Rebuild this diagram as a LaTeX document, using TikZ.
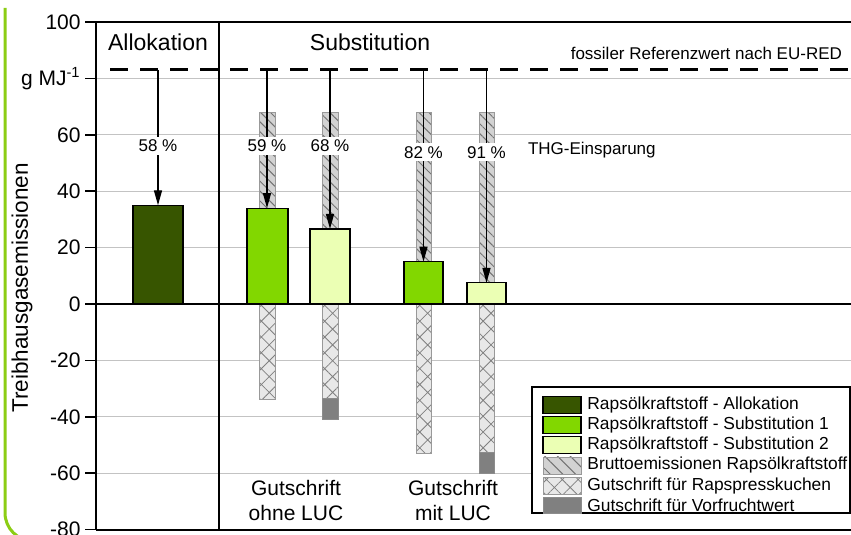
\documentclass[tikz,border=0pt]{standalone}
\usepackage{fontspec}
\setmainfont{Liberation Sans}
\usepackage{xcolor}
\usepackage{tikz}
\usetikzlibrary{arrows.meta, patterns.meta}

\definecolor{allogreen}{RGB}{55,85,0}
\definecolor{subsgreen}{RGB}{130,215,0}
\definecolor{subslight}{RGB}{235,255,180}
\definecolor{framegreen}{RGB}{140,205,20}
\definecolor{gridgray}{RGB}{195,195,195}

\begin{document}
\begin{tikzpicture}[x=0.5pt, y=1.41pt,
    gridline/.style={gridgray, line width=0.6pt},
    axisline/.style={black, line width=0.8pt},
    bar/.style={draw=black, line width=0.6pt},
    gross/.style={draw=gray!80, line width=0.4pt, preaction={fill=gray!35},
        pattern={Lines[angle=-45, distance=3.5pt, line width=0.5pt]}, pattern color=gray!90!black},
    credit/.style={draw=gray!80, line width=0.4pt, preaction={fill=gray!18},
        pattern={Hatch[angle=45, distance=5.6pt, line width=0.4pt]}, pattern color=gray},
    vorfrucht/.style={draw=gray!90, line width=0.4pt, fill=gray},
    savearrow/.style={black, line width=0.7pt, -{Triangle[length=7.5pt, width=4pt]}},
    refline/.style={black, line width=1.5pt, dash pattern=on 9pt off 6pt},
    ticklab/.style={anchor=east, font=\fontsize{10.5}{12}\selectfont, inner sep=0pt},
    title/.style={font=\fontsize{11.5}{13}\selectfont},
    lab/.style={font=\fontsize{8.5}{10}\selectfont},
    pct/.style={lab, fill=white, inner sep=1.5pt},
    gutlab/.style={align=center, font=\fontsize{10.5}{12.5}\selectfont},
    legtext/.style={anchor=west, font=\fontsize{8.7}{10}\selectfont, inner sep=0pt}
]
    \useasboundingbox (0,-81.91) rectangle (851,107.8);

    % green frame at the left
    \draw[framegreen, line width=1.5pt, rounded corners=14pt] (5,105) -- (5,-84) -- (80,-84);

    % grid and ticks
    \foreach \v in {80,60,40,20,-20,-40,-60}
        \draw[gridline] (96,\v) -- (851,\v);
    \foreach \v in {100,80,60,40,20,0,-20,-40,-60,-80}
        \draw[axisline] (85,\v) -- (96,\v);
    \foreach \v in {100,60,40,20,0,-20,-40,-60,-80}
        \node[ticklab] (t\v) at (81,\v) {\v};
    \node[ticklab] (tunit) at (81,80) {g MJ\textsuperscript{-1}};
    \node[rotate=90, font=\fontsize{11.25}{13}\selectfont] (ylab) at (22,5.7) {Treibhausgasemissionen};

    % gross emissions
    \draw[gross] (259,0) rectangle (275,68);
    \draw[gross] (322,0) rectangle (338,68);
    \draw[gross] (416,0) rectangle (431,68);
    \draw[gross] (479,0) rectangle (494,68);

    % credits
    \draw[credit] (259,0) rectangle (275,-34);
    \draw[credit] (322,0) rectangle (338,-33.3);
    \draw[vorfrucht] (322,-33.3) rectangle (338,-41);
    \draw[credit] (416,0) rectangle (431,-53);
    \draw[credit] (479,0) rectangle (494,-52.5);
    \draw[vorfrucht] (479,-52.5) rectangle (494,-60);

    % net emissions
    \draw[bar, fill=allogreen] (133,0) rectangle (183,35);
    \draw[bar, fill=subsgreen] (247,0) rectangle (288,34);
    \draw[bar, fill=subslight] (310,0) rectangle (350,26.6);
    \draw[bar, fill=subsgreen] (404,0) rectangle (443,15);
    \draw[bar, fill=subslight] (467,0) rectangle (506,7.5);

    % frame of the plot
    \draw[axisline] (96,-80) -- (96,100) -- (851,100);
    \draw[axisline] (219,-80) -- (219,100);
    \draw[black, line width=1pt] (96,0) -- (851,0);
    \draw[black, line width=1pt] (96,-80) -- (851,-80);

    % fossil reference
    \draw[refline] (110,83) -- (851,83);
    \node[lab, anchor=east] (fref) at (849,89) {fossiler Referenzwert nach EU-RED};

    % savings
    \coordinate (r0) at (158,83);   \coordinate (b0) at (158,35);
    \coordinate (r1) at (267,83);   \coordinate (b1) at (267,34);
    \coordinate (r2) at (330,83);   \coordinate (b2) at (330,26.6);
    \coordinate (r3) at (423.5,83); \coordinate (b3) at (423.5,15);
    \coordinate (r4) at (486.5,83); \coordinate (b4) at (486.5,7.5);
    \draw[savearrow] (r0) -- (b0);
    \draw[savearrow] (r1) -- (b1);
    \draw[savearrow] (r2) -- (b2);
    \draw[savearrow] (r3) -- (b3);
    \draw[savearrow] (r4) -- (b4);
    \node[pct] (p0) at (158,56) {58 \%};
    \node[pct] (p1) at (267,56) {59 \%};
    \node[pct] (p2) at (330,56) {68 \%};
    \node[pct] (p3) at (423.5,53.8) {82 \%};
    \node[pct] (p4) at (486.5,53.8) {91 \%};
    \node[lab, anchor=west] (thg) at (521,54.4) {THG-Einsparung};

    % titles
    \node[title] (allo) at (158,92.9) {Allokation};
    \node[title] (subs) at (370,92.9) {Substitution};
    \node[gutlab] (gohne) at (296,-69.7) {Gutschrift\\ohne LUC};
    \node[gutlab] (gmit) at (453,-69.7) {Gutschrift\\mit LUC};

    % legend
    \draw[black, line width=0.6pt, fill=white] (532,-29.4) rectangle (850,-74.1);
    \draw[bar, fill=allogreen] (543,-38.8) rectangle (581,-32.8);
    \draw[bar, fill=subsgreen] (543,-45.95) rectangle (581,-39.95);
    \draw[bar, fill=subslight] (543,-53.1) rectangle (581,-47.1);
    \draw[gross, pattern={Lines[angle=-45, distance=4.5pt, line width=0.5pt]}] (543,-60.25) rectangle (581,-54.25);
    \draw[credit] (543,-67.4) rectangle (581,-61.4);
    \draw[vorfrucht] (543,-74.1) rectangle (581,-68.55);
    \node[legtext] (l1) at (587,-35.8) {Rapsölkraftstoff - Allokation};
    \node[legtext] (l2) at (587,-42.95) {Rapsölkraftstoff - Substitution 1};
    \node[legtext] (l3) at (587,-50.1) {Rapsölkraftstoff - Substitution 2};
    \node[legtext] (l4) at (587,-57.25) {Bruttoemissionen Rapsölkraftstoff};
    \node[legtext] (l5) at (587,-64.4) {Gutschrift für Rapspresskuchen};
    \node[legtext] (l6) at (587,-71.55) {Gutschrift für Vorfruchtwert};
\end{tikzpicture}
\end{document}
